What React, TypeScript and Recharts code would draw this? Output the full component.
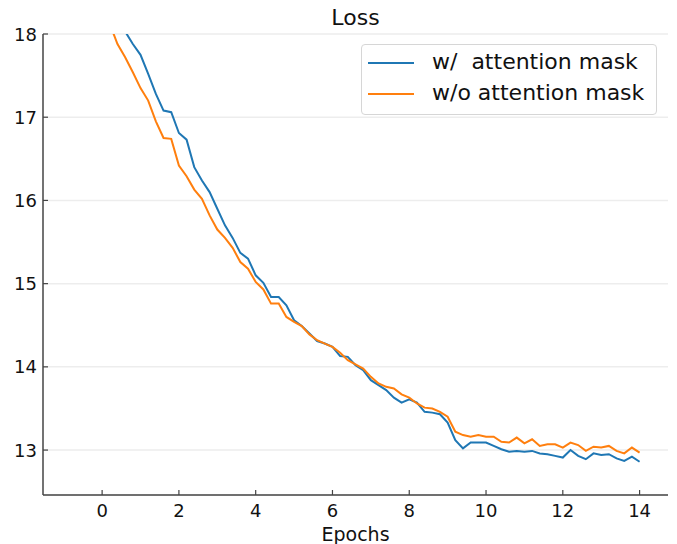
import { LineChart, Line, XAxis, YAxis, CartesianGrid } from 'recharts';

const epochs = [
  0, 0.2, 0.4, 0.6, 0.8, 1, 1.2, 1.4, 1.6, 1.8,
  2, 2.2, 2.4, 2.6, 2.8, 3, 3.2, 3.4, 3.6, 3.8,
  4, 4.2, 4.4, 4.6, 4.8, 5, 5.2, 5.4, 5.6, 5.8,
  6, 6.2, 6.4, 6.6, 6.8, 7, 7.2, 7.4, 7.6, 7.8,
  8, 8.2, 8.4, 8.6, 8.8, 9, 9.2, 9.4, 9.6, 9.8,
  10, 10.2, 10.4, 10.6, 10.8, 11, 11.2, 11.4, 11.6, 11.8,
  12, 12.2, 12.4, 12.6, 12.8, 13, 13.2, 13.4, 13.6, 13.8,
  14,
];

const withMask = [
  18.5, 18.35, 18.18, 18.03, 17.88, 17.75, 17.52, 17.28, 17.08, 17.06,
  16.81, 16.73, 16.4, 16.24, 16.1, 15.9, 15.7, 15.55, 15.37, 15.3,
  15.1, 15.01, 14.84, 14.84, 14.74, 14.56, 14.49, 14.4, 14.31, 14.28,
  14.24, 14.13, 14.12, 14.02, 13.96, 13.84, 13.78, 13.72, 13.63, 13.57,
  13.61, 13.57, 13.46, 13.45, 13.43, 13.33, 13.12, 13.02, 13.09, 13.09,
  13.09, 13.05, 13.01, 12.98, 12.99, 12.98, 12.99, 12.96, 12.95, 12.93,
  12.91, 13.0, 12.93, 12.89, 12.96, 12.94, 12.95, 12.9, 12.87, 12.92,
  12.86,
];

const withoutMask = [
  18.32, 18.12, 17.88, 17.72, 17.54, 17.35, 17.2, 16.95, 16.75, 16.74,
  16.42, 16.29, 16.13, 16.02, 15.82, 15.65, 15.55, 15.43, 15.26, 15.18,
  15.02, 14.93, 14.76, 14.76, 14.6, 14.54, 14.49, 14.39, 14.32, 14.28,
  14.24, 14.17, 14.08, 14.03, 13.98, 13.88, 13.8, 13.76, 13.74, 13.67,
  13.63, 13.56, 13.51, 13.5, 13.46, 13.4, 13.22, 13.18, 13.16, 13.18,
  13.16, 13.16, 13.1, 13.09, 13.15, 13.08, 13.13, 13.05, 13.07, 13.07,
  13.03, 13.09, 13.06, 12.99, 13.04, 13.03, 13.05, 12.99, 12.96, 13.03,
  12.97,
];

const xTicks = [0, 2, 4, 6, 8, 10, 12, 14];
const yTicks = [13, 14, 15, 16, 17, 18];

const series = [
  { key: 'withMask', name: 'w/  attention mask', color: '#1f77b4' },
  { key: 'withoutMask', name: 'w/o attention mask', color: '#ff7f0e' },
];

const data = epochs.map((e, i) => ({ e, withMask: withMask[i], withoutMask: withoutMask[i] }));

const FONT = '"DejaVu Sans", sans-serif';
const AXIS = '#444';

function XTick({ x, y, payload }: any) {
  return (
    <g>
      <line x1={x} x2={x} y1={y} y2={y - 5} stroke={AXIS} strokeWidth={1.2} />
      <text x={x} y={y + 22} textAnchor="middle" fontSize={18} fontFamily={FONT} fill="#111">
        {payload.value}
      </text>
    </g>
  );
}

function YTick({ x, y, payload }: any) {
  return (
    <g>
      <line x1={x} x2={x + 5} y1={y} y2={y} stroke={AXIS} strokeWidth={1.2} />
      <text x={x - 6} y={y + 6.5} textAnchor="end" fontSize={18} fontFamily={FONT} fill="#111">
        {payload.value}
      </text>
    </g>
  );
}

function LegendBox() {
  return (
    <div
      style={{
        position: 'absolute', left: 361, top: 44, width: 294, height: 69,
        border: '1px solid #d6d6d6', borderRadius: 4, background: '#fff',
        fontFamily: FONT, fontSize: 22, color: '#111',
      }}
    >
      {series.map((s, i) => (
        <div key={s.key} style={{ position: 'relative', height: 31, marginTop: i === 0 ? 3 : 0 }}>
          <div style={{ position: 'absolute', left: 6, top: 14, width: 46, height: 2, background: s.color }} />
          <div style={{ position: 'absolute', left: 70, top: 1, lineHeight: '26px', whiteSpace: 'pre' }}>{s.name}</div>
        </div>
      ))}
    </div>
  );
}

export default function App() {
  return (
    <div style={{ position: 'absolute', left: 0, top: 0, width: 677, height: 544, background: '#fff' }}>
      <div
        style={{
          position: 'absolute', left: 0, top: 5, width: 711, textAlign: 'center',
          fontFamily: FONT, fontSize: 22, lineHeight: '26px', color: '#111',
        }}
      >
        Loss
      </div>
      <LineChart
        width={677}
        height={544}
        data={data}
        margin={{ top: 34, right: 9, left: 0, bottom: 0 }}
      >
        <CartesianGrid vertical={false} stroke="#ededed" strokeWidth={1.5} />
        <XAxis
          dataKey="e"
          type="number"
          domain={[-1.54, 14.74]}
          allowDataOverflow
          ticks={xTicks}
          tick={<XTick />}
          tickLine={false}
          tickSize={0}
          tickMargin={0}
          height={49}
          axisLine={{ stroke: AXIS, strokeWidth: 1.5 }}
          label={{ value: 'Epochs', position: 'insideBottom', offset: 3, fontSize: 19, fontFamily: FONT, fill: '#111' }}
        />
        <YAxis
          type="number"
          domain={[12.46, 18]}
          allowDataOverflow
          ticks={yTicks}
          tick={<YTick />}
          tickLine={false}
          tickSize={0}
          tickMargin={0}
          width={43}
          axisLine={{ stroke: AXIS, strokeWidth: 1.5 }}
        />
        {series.map((s) => (
          <Line
            key={s.key}
            dataKey={s.key}
            name={s.name}
            type="linear"
            stroke={s.color}
            strokeWidth={2}
            dot={false}
            isAnimationActive={false}
          />
        ))}
      </LineChart>
      <LegendBox />
    </div>
  );
}
